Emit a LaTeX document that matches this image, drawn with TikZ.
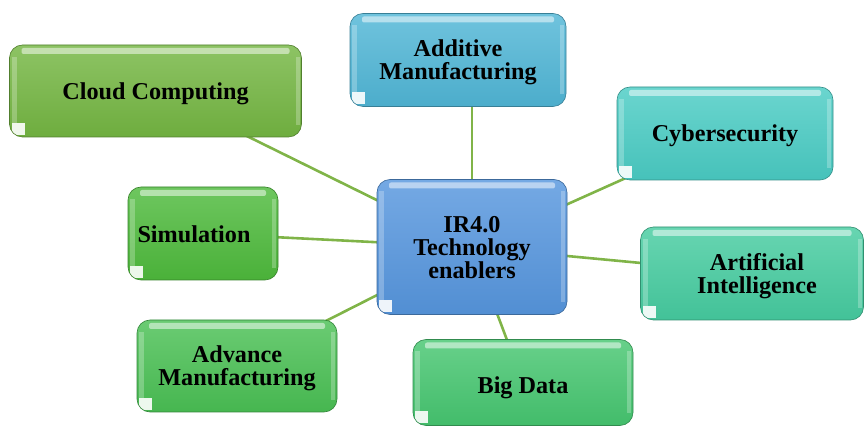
\documentclass[tikz,border=0pt]{standalone}
\usepackage{fontspec}
\setmainfont{Liberation Serif}
\usetikzlibrary{backgrounds}
\definecolor{cccol}{RGB}{116,182,66}
\definecolor{amcol}{RGB}{80,182,214}
\definecolor{cycol}{RGB}{74,204,196}
\definecolor{simcol}{RGB}{78,186,60}
\definecolor{ircol}{RGB}{86,150,222}
\definecolor{aicol}{RGB}{70,204,160}
\definecolor{advcol}{RGB}{74,192,84}
\definecolor{bdcol}{RGB}{70,198,112}
\definecolor{linkcol}{RGB}{128,180,72}
\tikzset{
  box/.style={rounded corners=13pt, draw=#1!70!black, line width=0.6pt,
    top color=#1!82!white, bottom color=#1!95!black,
    inner sep=0pt,
    path picture={
      \fill[white,opacity=0.5,rounded corners=2pt]
        ([xshift=12pt,yshift=-3pt]path picture bounding box.north west) rectangle
        ([xshift=-12pt,yshift=-9pt]path picture bounding box.north east);
      \fill[white,opacity=0.25,sharp corners]
        ([xshift=2pt,yshift=-12pt]path picture bounding box.north west) rectangle
        ([xshift=7pt,yshift=14pt]path picture bounding box.south west);
      \fill[white,opacity=0.25,sharp corners]
        ([xshift=-2pt,yshift=-12pt]path picture bounding box.north east) rectangle
        ([xshift=-6pt,yshift=12pt]path picture bounding box.south east);
      \fill[white,opacity=0.9,sharp corners]
        ([xshift=2pt,yshift=2pt]path picture bounding box.south west) rectangle
        ([xshift=15pt,yshift=14pt]path picture bounding box.south west);
    }},
  txt/.style={align=center, inner sep=0pt, yshift=-2.5pt,
    font=\bfseries\fontsize{24.2}{23}\selectfont},
  link/.style={draw=linkcol, line width=2.6pt}
}
\begin{document}
\begin{tikzpicture}[x=1pt,y=-1pt]
\useasboundingbox (0,0) rectangle (865,427);
\node[box=cccol, minimum width=292pt, minimum height=92pt,
  label={[txt]center:Cloud Computing}] (cc) at (155.5,91) {};
\node[box=amcol, minimum width=216pt, minimum height=93pt,
  label={[txt]center:{Additive\\Manufacturing}}] (am) at (458,60) {};
\node[box=cycol, minimum width=216pt, minimum height=93pt,
  label={[txt]center:Cybersecurity}] (cy) at (725,133.5) {};
\node[box=simcol, minimum width=150pt, minimum height=93pt,
  label={[txt,xshift=-9pt,yshift=2pt]center:Simulation}] (sim) at (203,233.5) {};
\node[box=ircol, minimum width=190pt, minimum height=135pt,
  label={[txt,yshift=1.5pt]center:{IR4.0\\Technology\\enablers}}] (ir) at (472,247) {};
\node[box=aicol, minimum width=223pt, minimum height=93pt,
  label={[txt,xshift=5pt]center:{Artificial\\Intelligence}}] (ai) at (752,273.5) {};
\node[box=advcol, minimum width=200pt, minimum height=92pt,
  label={[txt]center:{Advance\\Manufacturing}}] (adv) at (237,366) {};
\node[box=bdcol, minimum width=220pt, minimum height=86pt,
  label={[txt,yshift=-2.5pt]center:Big Data}] (bd) at (523,382.5) {};
\begin{scope}[on background layer]
\foreach \n in {cc,cy,sim,ai,adv,bd}
  \draw[link] (ir.center) -- (\n.center);
\draw[link] (ir.center) -- (ir.center |- am.center);
\end{scope}
\end{tikzpicture}
\end{document}
